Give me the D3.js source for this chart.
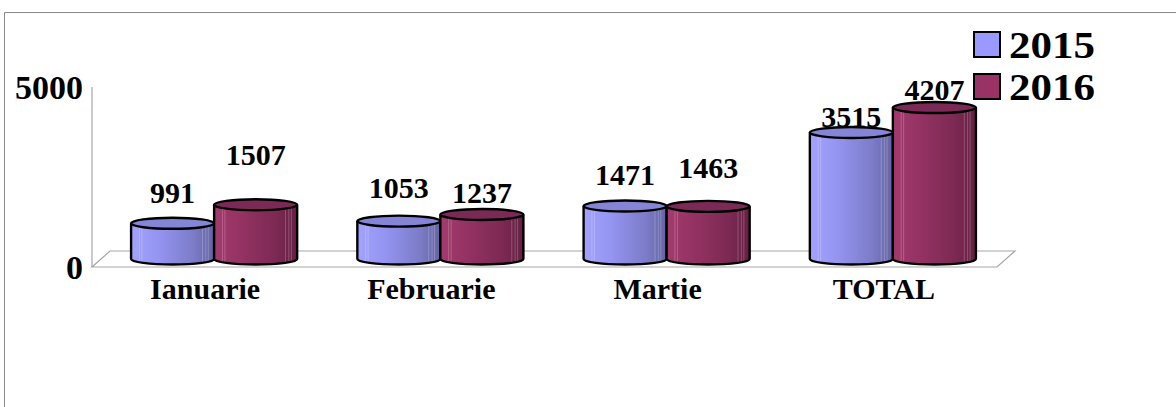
<!DOCTYPE html>
<html>
<head>
<meta charset="utf-8">
<script src="https://cdn.jsdelivr.net/npm/d3@7"></script>
<style>
html,body{margin:0;padding:0;background:#fff;}
svg{display:block;}
text{font-family:"Liberation Serif","Times New Roman",serif;font-weight:bold;fill:#000;}
</style>
</head>
<body>
<svg id="chart" width="1176" height="407"></svg>
<script>
// ---- data ----
const categories = ["Ianuarie", "Februarie", "Martie", "TOTAL"];
const seriesNames = ["2015", "2016"];
const values2015 = [991, 1053, 1471, 3515];
const values2016 = [1507, 1237, 1463, 4207];
const yTicks = [0, 5000];

// ---- layout (label nudges, px above bar top) ----
const labelLift2015 = [20, 23, 21, 5];
const labelLift2016 = [40, 11, 28, 8];

const colors = ["#9999FF", "#993366"];
const svg = d3.select("#chart");

const depthDx = 18, depthDy = -16;      // floor depth
const midDx = depthDx / 2, midDy = depthDy / 2;

const x0 = d3.scaleBand().domain(categories).range([92, 997])
  .paddingInner(0.266).paddingOuter(0.133);
const x1 = d3.scaleBand().domain(seriesNames).range([0, x0.bandwidth()]);
const y = d3.scaleLinear().domain([0, 5000]).range([267, 87]);

// outer frame
svg.append("path").attr("d", "M4.5,407 L4.5,12.5 L1176,12.5")
  .attr("fill", "none").attr("stroke", "#8a8a8a").attr("stroke-width", 1);

// gradients
const defs = svg.append("defs");
const grads = [
  {id: "g0", stops: [["0%", "#a3a3ff"], ["35%", "#9393f0"], ["75%", "#7c7cc8"], ["100%", "#6464a4"]]},
  {id: "g1", stops: [["0%", "#a33a6e"], ["35%", "#933262"], ["75%", "#7c2953"], ["100%", "#652043"]]}
];
grads.forEach(g => {
  const lg = defs.append("linearGradient").attr("id", g.id).attr("x1", "0").attr("x2", "1").attr("y1", "0").attr("y2", "0");
  g.stops.forEach(s => lg.append("stop").attr("offset", s[0]).attr("stop-color", s[1]));
});
const topFill = ["#8585d8", "#7a2a55"];

// floor + axis
const axisG = svg.append("g").attr("stroke", "#a6a6a6").attr("stroke-width", 1.2).attr("fill", "none");
const fx0 = 92, fx1 = 997, fy = y(0);
axisG.append("path").attr("d",
  `M${fx0},${fy} L${fx1},${fy} L${fx1 + depthDx},${fy + depthDy} L${fx0 + depthDx},${fy + depthDy} Z`);
axisG.append("line").attr("x1", fx0).attr("x2", fx0).attr("y1", y(5000)).attr("y2", fy);

// y tick labels
svg.selectAll(".ytick").data(yTicks).enter().append("text")
  .attr("x", 83).attr("y", d => y(d)).attr("dy", "0.35em")
  .attr("text-anchor", "end").style("font-size", "34px").text(d => d);

// category labels
svg.selectAll(".cat").data(categories).enter().append("text")
  .attr("x", d => x0(d) + x0.bandwidth() / 2).attr("y", 299)
  .attr("text-anchor", "middle").style("font-size", "30px").text(d => d);

// bars (cylinders)
const seriesVals = [values2015, values2016];
const lifts = [labelLift2015, labelLift2016];
const ry = 5.5;
const bars = [];
categories.forEach((c, i) => {
  seriesNames.forEach((s, j) => {
    bars.push({c, s, j, v: seriesVals[j][i], lift: lifts[j][i]});
  });
});

const barG = svg.append("g");
bars.forEach(b => {
  const left = x0(b.c) + x1(b.s) + midDx;
  const w = x1.bandwidth();
  const rx = w / 2;
  const base = y(0) + midDy;
  const top = y(b.v) + midDy;
  const g = barG.append("g");
  g.append("path")
    .attr("d", `M${left},${top} L${left},${base} A${rx},${ry} 0 0 0 ${left + w},${base} L${left + w},${top} Z`)
    .attr("fill", `url(#g${b.j})`).attr("stroke", "none");
  // faint vertical highlights
  const hl = [0.1, 0.13, 0.86, 0.9, 0.93];
  hl.forEach(f => {
    g.append("line").attr("x1", left + w * f).attr("x2", left + w * f)
      .attr("y1", top + 2).attr("y2", base + ry * 0.7)
      .attr("stroke", "#ffffff").attr("stroke-opacity", 0.28).attr("stroke-width", 0.8);
  });
  g.append("path")
    .attr("d", `M${left},${top} L${left},${base} A${rx},${ry} 0 0 0 ${left + w},${base} L${left + w},${top}`)
    .attr("fill", "none").attr("stroke", "#000").attr("stroke-width", 2.4);
  g.append("ellipse").attr("cx", left + rx).attr("cy", top).attr("rx", rx).attr("ry", ry)
    .attr("fill", topFill[b.j]).attr("stroke", "#000").attr("stroke-width", 2.4);
  // value label
  svg.append("text").attr("x", left + rx).attr("y", top - b.lift)
    .attr("text-anchor", "middle").style("font-size", "30px").text(b.v);
});

// legend
const leg = svg.append("g");
seriesNames.forEach((s, i) => {
  const yy = 32 + i * 42;
  leg.append("rect").attr("x", 974).attr("y", yy).attr("width", 26).attr("height", 25)
    .attr("fill", colors[i]).attr("stroke", "#000").attr("stroke-width", 2);
  leg.append("text").attr("x", 1009).attr("y", yy + 26)
    .attr("textLength", 86).attr("lengthAdjust", "spacingAndGlyphs")
    .style("font-size", "37px").text(s);
});
</script>
</body>
</html>
